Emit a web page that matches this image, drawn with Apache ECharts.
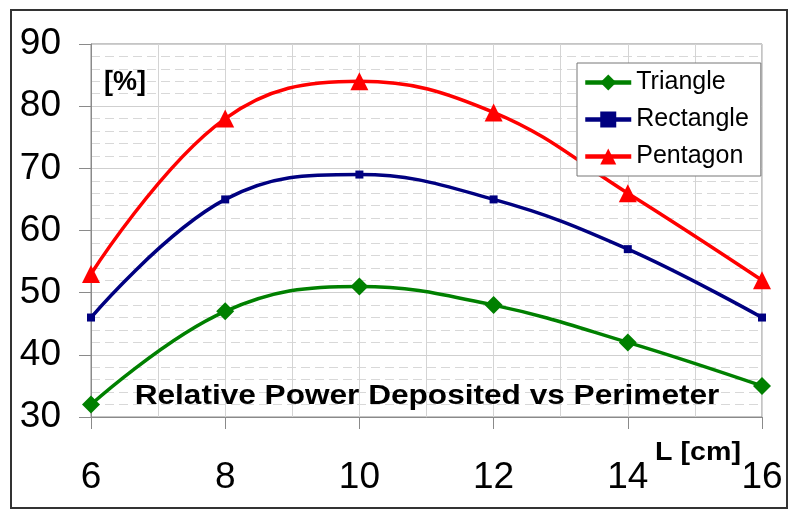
<!DOCTYPE html>
<html>
<head>
<meta charset="utf-8">
<script src="https://cdn.jsdelivr.net/npm/echarts@6/dist/echarts.min.js"></script>
<style>
  html, body { margin: 0; padding: 0; background: #fff; }
  #chart { width: 800px; height: 520px; }
</style>
</head>
<body>
<div id="chart"></div>
<script>
// perimeter L [cm]
var perimeter = [6, 8, 10, 12, 14, 16];
// relative power deposited [%]
var triangle  = [32, 47, 51, 48, 42, 35];
var rectangle = [46, 65, 69, 65, 57, 46];
var pentagon  = [53, 78, 84, 79, 66, 52];
var seriesNames = ['Triangle', 'Rectangle', 'Pentagon'];

function pairs(ys) {
    var out = [];
    for (var i = 0; i < perimeter.length; i++) {
        out.push([perimeter[i], ys[i]]);
    }
    return out;
}

var myChart = echarts.init(document.getElementById('chart'));
var font = '"Liberation Sans", Arial, sans-serif';

var option = {
    backgroundColor: '#fff',
    animation: false,
    textStyle: { fontFamily: font },
    grid: {
        left: 91, right: 38, top: 44, bottom: 103,
        show: true,
        borderColor: '#8a8a8a',
        borderWidth: 1
    },
    legend: {
        left: 577, top: 63,
        orient: 'vertical',
        data: seriesNames,
        itemWidth: 46,
        itemHeight: 20,
        itemGap: 12,
        padding: [7, 12, 7, 6],
        backgroundColor: '#fff',
        borderColor: '#777',
        borderWidth: 1,
        lineStyle: { width: 4.5 },
        textStyle: { fontSize: 25, color: '#000', fontFamily: font, lineHeight: 25 }
    },
    xAxis: {
        type: 'value',
        min: 6, max: 16, interval: 2,
        axisLine: { lineStyle: { color: '#8a8a8a', width: 1 } },
        axisTick: { show: true, length: 12, lineStyle: { color: '#8a8a8a' } },
        axisLabel: { fontSize: 37, color: '#000', margin: 42, fontFamily: font },
        splitLine: { show: true, lineStyle: { color: '#d4d4d4', width: 1 } },
        minorTick: { show: false, splitNumber: 2 },
        minorSplitLine: { show: true, lineStyle: { color: '#d4d4d4', width: 1 } }
    },
    yAxis: {
        type: 'value',
        min: 30, max: 90, interval: 10,
        axisLine: { show: true, lineStyle: { color: '#8a8a8a', width: 1 } },
        axisTick: { show: true, length: 12, lineStyle: { color: '#8a8a8a' } },
        axisLabel: { fontSize: 37, color: '#000', margin: 30, fontFamily: font },
        splitLine: { show: true, lineStyle: { color: '#cfcfcf', width: 1 } },
        minorTick: { show: false, splitNumber: 5 },
        minorSplitLine: { show: true, lineStyle: { color: '#d8d8d8', width: 1, type: [9, 5] } }
    },
    series: [
        {
            name: 'Triangle', type: 'line', smooth: 0.4,
            data: pairs(triangle),
            symbol: 'diamond', symbolSize: 18,
            lineStyle: { color: '#008000', width: 3.5 },
            itemStyle: { color: '#008000' }
        },
        {
            name: 'Rectangle', type: 'line', smooth: 0.4,
            data: pairs(rectangle),
            symbol: 'rect', symbolSize: 8,
            lineStyle: { color: '#000080', width: 3.5 },
            itemStyle: { color: '#000080' }
        },
        {
            name: 'Pentagon', type: 'line', smooth: 0.4,
            data: pairs(pentagon),
            symbol: 'triangle', symbolSize: 18,
            lineStyle: { color: '#ff0000', width: 3.5 },
            itemStyle: { color: '#ff0000' }
        }
    ],
    graphic: [
        {
            type: 'rect', z: 100, silent: true,
            shape: { x: 11, y: 10, width: 776, height: 498 },
            style: { fill: 'none', stroke: '#333', lineWidth: 2 }
        },
        {
            type: 'text', x: 125, y: 83, z: 100,
            style: {
                text: '[%]', font: 'bold 27px ' + font, fill: '#000',
                align: 'center', verticalAlign: 'middle'
            }
        },
        {
            type: 'text', x: 698, y: 453, z: 100, scaleX: 1.1,
            style: {
                text: 'L [cm]', font: 'bold 26px ' + font, fill: '#000',
                align: 'center', verticalAlign: 'middle'
            }
        },
        {
            type: 'text', x: 427, y: 397, z: 100, scaleX: 1.17,
            style: {
                text: 'Relative Power Deposited vs Perimeter',
                font: 'bold 27px ' + font, fill: '#000',
                align: 'center', verticalAlign: 'middle'
            }
        }
    ]
};

myChart.setOption(option);
</script>
</body>
</html>
